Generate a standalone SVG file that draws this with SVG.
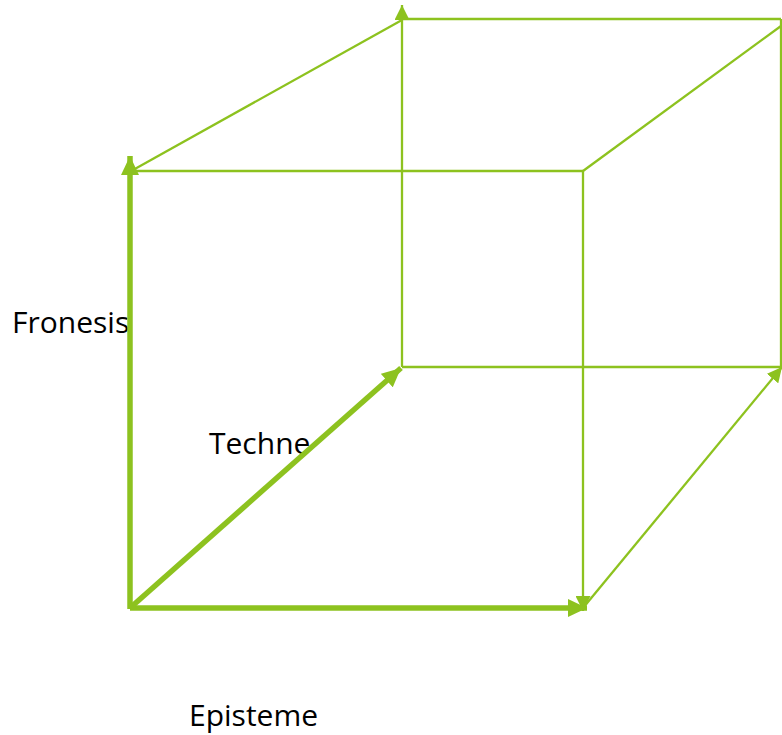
<svg xmlns="http://www.w3.org/2000/svg" width="782" height="735" viewBox="0 0 782 735">
<style>
.lbl{font-family:"Open Sans","DejaVu Sans",sans-serif;font-size:30px;fill:#000}
.thin{stroke:#8dc21f;stroke-width:2.3;fill:none}
.thick{stroke:#8dc21f;stroke-width:5.5;fill:none}
</style>
<defs>
<marker id="ah" markerUnits="userSpaceOnUse" markerWidth="20" markerHeight="18" refX="19" refY="9" orient="auto" viewBox="0 0 20 18">
<path d="M0,0 L19,9 L0,18 z" fill="#8dc21f"/>
</marker>
<marker id="at" markerUnits="userSpaceOnUse" markerWidth="16" markerHeight="15" refX="15" refY="7.5" orient="auto" viewBox="0 0 16 15">
<path d="M0,0 L15,7.5 L0,15 z" fill="#8dc21f"/>
</marker>
</defs>
<g id="fronesis"><text class="lbl" x="12" y="333">Fronesis</text></g>
<g id="techne"><text class="lbl" x="209" y="454">Techne</text></g>
<g id="episteme"><text class="lbl" x="189" y="726">Episteme</text></g>
<g id="connectors">
<line class="thin" x1="130" y1="171" x2="583" y2="171"/>
<line class="thin" x1="133" y1="170" x2="402" y2="20"/>
<line class="thin" x1="402" y1="19" x2="781" y2="19"/>
<line class="thin" x1="781" y1="19" x2="781" y2="367"/>
<line class="thin" x1="402" y1="367" x2="781" y2="367"/>
<line class="thin" x1="583" y1="171" x2="781" y2="26"/>
<line class="thin" x1="402" y1="367" x2="402" y2="5" marker-end="url(#at)"/>
<line class="thin" x1="583" y1="171" x2="583" y2="611" marker-end="url(#at)"/>
<line class="thin" x1="583" y1="608" x2="782" y2="367" marker-end="url(#at)"/>
<line class="thick" x1="130" y1="609" x2="130" y2="156" marker-end="url(#ah)"/>
<line class="thick" x1="130" y1="608" x2="587" y2="608" marker-end="url(#ah)"/>
<line class="thick" x1="130" y1="608" x2="401" y2="368" marker-end="url(#ah)"/>
</g>
</svg>
